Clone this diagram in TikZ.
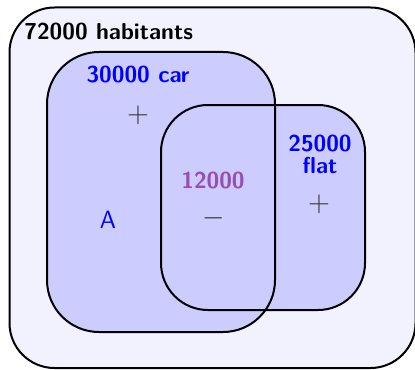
\documentclass[tikz,border=0pt]{standalone}
\definecolor{purp}{RGB}{153,76,178}
\begin{document}
\begin{tikzpicture}[x=0.5pt,y=-0.5pt,
  lbl/.style={font=\fontsize{11.5}{12}\selectfont\sffamily\bfseries, inner sep=0pt},
  sym/.style={font=\fontsize{13.5}{15}\selectfont, text=black!80, inner sep=0pt},
  setline/.style={line width=1pt, draw=black}]
\useasboundingbox (0,0) rectangle (415,369);
\draw[setline, fill=blue!5, rounded corners=22.5pt] (9.5,7.5) rectangle (415.5,368);
\fill[blue!20, rounded corners=26pt] (47,52) rectangle (275,332);
\fill[blue!20, rounded corners=23.5pt] (161,105) rectangle (365,310);
\draw[setline, rounded corners=26pt] (47,52) rectangle (275,332);
\draw[setline, rounded corners=23.5pt] (161,105) rectangle (365,310);
\node[lbl, anchor=west] (tot) at (24,32) {72000 habitants};
\node[lbl, text=blue] (car) at (138,75) {30000 car};
\node[sym] (p1) at (138,115) {$+$};
\node[lbl, text=purp] (inter) at (213,181) {12000};
\node[sym] (m) at (214,218) {$-$};
\node[lbl, text=blue] (flatn) at (320,144) {25000};
\node[lbl, text=blue] (flat) at (320,166) {flat};
\node[sym] (p2) at (319,204) {$+$};
\node[font=\fontsize{12.5}{14}\selectfont\sffamily, text=blue, inner sep=0pt] (a) at (108,220) {A};
\end{tikzpicture}
\end{document}
